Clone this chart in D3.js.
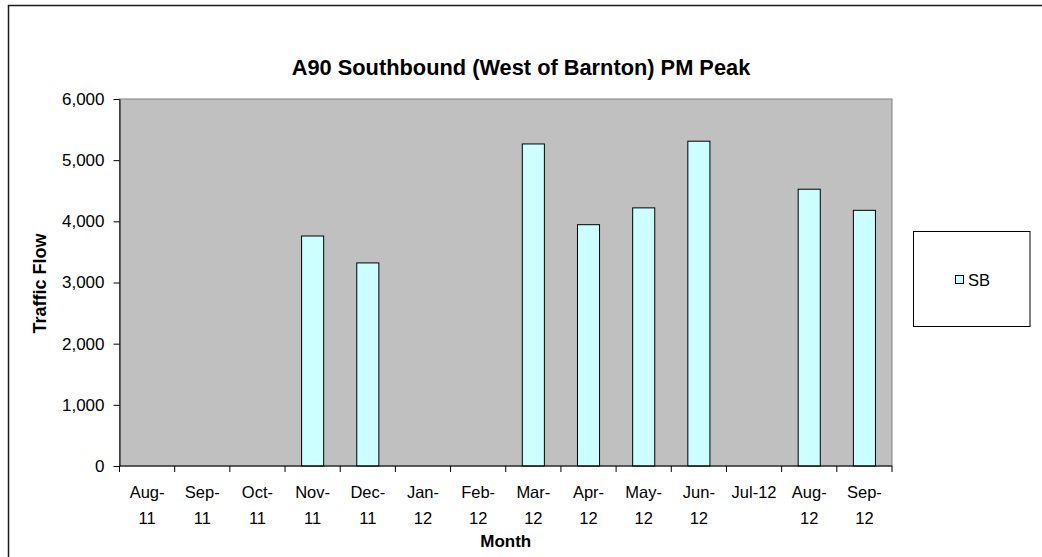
<!DOCTYPE html>
<html>
<head>
<meta charset="utf-8">
<script src="https://cdn.jsdelivr.net/npm/d3@7"></script>
<style>
  html, body { margin: 0; padding: 0; background: #ffffff; }
  svg { display: block; font-family: "Liberation Sans", Arial, sans-serif; }
</style>
</head>
<body>
<svg id="chart" width="1042" height="557"></svg>
<script>
// ---- data ----
const months = ["Aug-11", "Sep-11", "Oct-11", "Nov-11", "Dec-11", "Jan-12", "Feb-12",
                "Mar-12", "Apr-12", "May-12", "Jun-12", "Jul-12", "Aug-12", "Sep-12"];
const sbValues = [null, null, null, 3760, 3320, null, null, 5265, 3945, 4220, 5310, null, 4525, 4180];
const yTicks = [0, 1000, 2000, 3000, 4000, 5000, 6000];
const seriesName = "SB";
const chartTitle = "A90 Southbound (West of Barnton) PM Peak";
const xTitle = "Month";
const yTitle = "Traffic Flow";

// ---- layout ----
const svg = d3.select("#chart");
const plot = { left: 119.5, right: 892, top: 99, bottom: 466 };

// outer chart border (extends past the right/bottom of the picture)
svg.append("rect")
  .attr("x", 8.5).attr("y", 5.5)
  .attr("width", 1100).attr("height", 600)
  .attr("fill", "#ffffff").attr("stroke", "#1a1a1a").attr("stroke-width", 1.5);

const x = d3.scaleBand().domain(months).range([plot.left, plot.right]).padding(0);
const y = d3.scaleLinear().domain([0, 6000]).range([plot.bottom, plot.top]);

// plot area
svg.append("rect")
  .attr("x", plot.left).attr("y", plot.top)
  .attr("width", plot.right - plot.left).attr("height", plot.bottom - plot.top)
  .attr("fill", "#c0c0c0").attr("stroke", "#808080").attr("stroke-width", 1);

// bars
const barW = x.bandwidth() / 2.5;
svg.append("g").selectAll("rect")
  .data(months.map((m, i) => ({ m, v: sbValues[i] })).filter(d => d.v != null))
  .join("rect")
  .attr("x", d => x(d.m) + (x.bandwidth() - barW) / 2)
  .attr("y", d => y(d.v))
  .attr("width", barW)
  .attr("height", d => y(0) - y(d.v))
  .attr("fill", "#ccffff")
  .attr("stroke", "#000000")
  .attr("stroke-width", 1);

// y axis
const yAxis = d3.axisLeft(y).tickValues(yTicks).tickFormat(d3.format(",")).tickSize(6).tickSizeOuter(0).tickPadding(9);
const gy = svg.append("g").attr("transform", `translate(${plot.left},0)`).call(yAxis);
gy.select(".domain").attr("stroke", "#000");
gy.selectAll(".tick line").attr("stroke", "#000");
gy.selectAll("text").attr("font-size", 17).attr("fill", "#000")
  .attr("font-family", "'Liberation Sans', Arial, sans-serif");

// x axis: ticks at category boundaries
const gx = svg.append("g").attr("transform", `translate(0,${plot.bottom})`);
gx.append("line").attr("x1", plot.left).attr("x2", plot.right).attr("y1", 0).attr("y2", 0)
  .attr("stroke", "#000");
const bounds = months.map(m => x(m)).concat([x(months[months.length - 1]) + x.bandwidth()]);
gx.selectAll("line.tk").data(bounds).join("line").attr("class", "tk")
  .attr("x1", d => d).attr("x2", d => d).attr("y1", 0).attr("y2", 6)
  .attr("stroke", "#000");

// x labels with wrapping after the hyphen when too wide
const labels = gx.selectAll("text.lbl").data(months).join("text").attr("class", "lbl")
  .attr("x", d => x(d) + x.bandwidth() / 2)
  .attr("y", 32)
  .attr("text-anchor", "middle")
  .attr("font-size", 16.5).attr("fill", "#000");
labels.each(function(d) {
  const t = d3.select(this);
  t.text(d);
  if (this.getComputedTextLength() > 47) {
    const parts = d.split("-");
    t.text(null);
    t.append("tspan").attr("x", x(d) + x.bandwidth() / 2).attr("dy", 0).text(parts[0] + "-");
    t.append("tspan").attr("x", x(d) + x.bandwidth() / 2).attr("dy", 25.5).text(parts[1]);
  }
});

// title
svg.append("text")
  .attr("x", 521).attr("y", 75)
  .attr("text-anchor", "middle")
  .attr("font-size", 21.8).attr("font-weight", "bold")
  .text(chartTitle);

// axis titles
svg.append("text")
  .attr("x", (plot.left + plot.right) / 2).attr("y", 547)
  .attr("text-anchor", "middle")
  .attr("font-size", 17).attr("font-weight", "bold")
  .text(xTitle);

svg.append("text")
  .attr("transform", `translate(46,${(plot.top + plot.bottom) / 2 + 1}) rotate(-90)`)
  .attr("text-anchor", "middle")
  .attr("font-size", 18).attr("font-weight", "bold")
  .text(yTitle);

// legend
const lg = svg.append("g");
lg.append("rect").attr("x", 913.5).attr("y", 231.5).attr("width", 116.5).attr("height", 95)
  .attr("fill", "#fff").attr("stroke", "#000").attr("stroke-width", 1);
lg.append("rect").attr("x", 955.5).attr("y", 275.5).attr("width", 8).attr("height", 8)
  .attr("fill", "#ccffff").attr("stroke", "#000").attr("stroke-width", 1);
lg.append("text").attr("x", 968).attr("y", 285.5).attr("font-size", 16.5).text(seriesName);
</script>
</body>
</html>
